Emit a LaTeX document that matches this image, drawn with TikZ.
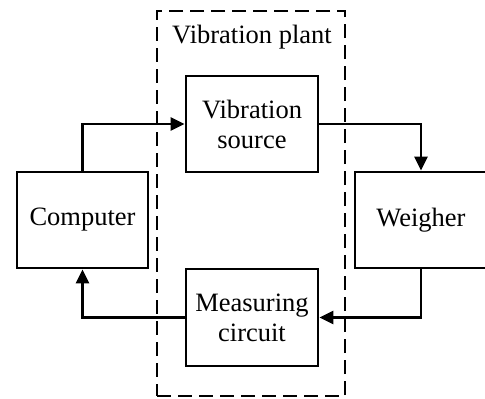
\documentclass[tikz,border=0pt]{standalone}
\usepackage{fontspec}
\setmainfont{Liberation Serif}
\usetikzlibrary{arrows.meta}
\begin{document}
\begin{tikzpicture}[x=1pt,y=-1pt,
  blockbox/.style={draw,line width=2.7pt,minimum width=132pt,minimum height=96pt,inner sep=0pt,align=center,font=\fontsize{26.5}{30}\selectfont},
  conn/.style={line width=2.6pt,-{Triangle[length=14pt,width=13pt]}},
  plantbox/.style={draw,line width=2.2pt,dash pattern=on 14pt off 7pt}]
\useasboundingbox (0,0) rectangle (485,399);
\clip (0,0) rectangle (485,399);
\node[plantbox,minimum width=188pt,minimum height=385pt,inner sep=0pt] (plant) at (251,203.5) {};
\node[font=\fontsize{26.5}{30}\selectfont,inner sep=0pt] (plantlabel) at (252,37) {Vibration plant};
\node[blockbox] (vs) at (252,124) {Vibration\\source};
\node[blockbox,minimum width=131pt] (comp) at (82.5,220) {Computer};
\node[blockbox] (weigh) at (421,220) {Weigher};
\node[blockbox,minimum height=97pt] (meas) at (252,317.5) {Measuring\\circuit};
\draw[conn] (comp.north) |- (vs.west);
\draw[conn] (vs.east) -| (weigh.north);
\draw[conn] (weigh.south) |- (meas.east);
\draw[conn] (meas.west) -| (comp.south);
\end{tikzpicture}
\end{document}
